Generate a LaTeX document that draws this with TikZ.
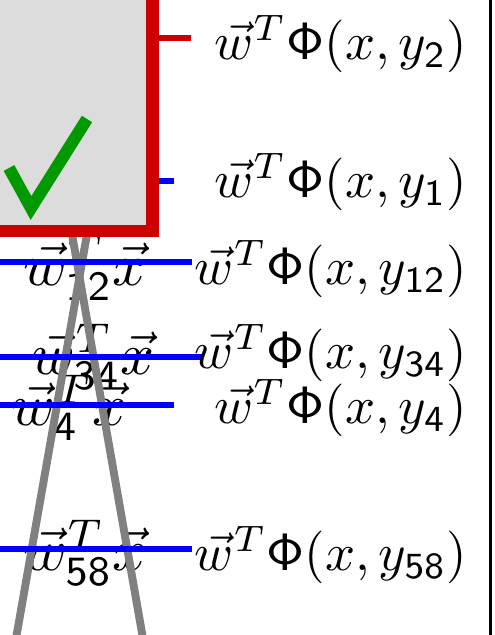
\documentclass[tikz,border=0pt]{standalone}
\usepackage{amsmath}
\usepackage{tikz}
\definecolor{boxred}{RGB}{204,0,0}
\definecolor{boxfill}{RGB}{220,220,220}
\definecolor{rod}{RGB}{128,128,128}
\definecolor{okgreen}{RGB}{0,153,0}

\begin{document}
\begin{tikzpicture}[x=0.19pt,y=-0.19pt,
  lbl/.style={inner sep=0pt},
  bar/.style={blue,line width=1.15pt},
  rodline/.style={rod,line width=1.5pt},
  tallybox/.style={draw=boxred,fill=boxfill,line width=2.3pt},
  tick2/.style={boxred,line width=1.15pt}]
\useasboundingbox (0,0) rectangle (494,635);
\clip (0,0) rectangle (494,635);
% scores on the left
\foreach \n/\x/\y in %
{12/85/268,34/93/357,4/69/408,58/85/553} {
   \node[lbl,scale=1.13,transform shape] (sc\n) at (\x,\y) {$\vec{w}^T_{\mathsf{\n}}\vec{x}$};
}
\coordinate (ra) at (93,200); \coordinate (rb) at (14,650);
\coordinate (rc) at (66,200); \coordinate (rd) at (145,650);
\draw[rodline] (ra) -- (rb);
\draw[rodline] (rc) -- (rd);
\coordinate (t2) at (191,38); \coordinate (t1) at (174,181);
\draw[tick2] (t2) -- ++(-40,0);
\draw[bar] (t1) -- ++(-23,0);
\draw[tallybox] (-60,-60) rectangle (152.5,231);
\draw[okgreen,line width=2.3pt] (9,168) -- (31,208) -- (87,119);
\foreach \n/\e/\y in %
{12/192/262,34/202/357,4/174/405,58/192/549} {
   \coordinate (b\n) at (\e,\y);
   \draw[bar] (b\n) -- ++(-220,0);
}
% scores on the right
\foreach \n/\y in %
{2/44,1/182,12/269,34/353,4/408,58/555} {
   \node[lbl,anchor=east] (phi\n) at (468,\y) {$\vec{w}^T\mathsf{\Phi}(x,y_{\mathsf{\n}})$};
}
\draw[line width=0.4pt] (490.5,0) -- (490.5,635);
\end{tikzpicture}
\end{document}
